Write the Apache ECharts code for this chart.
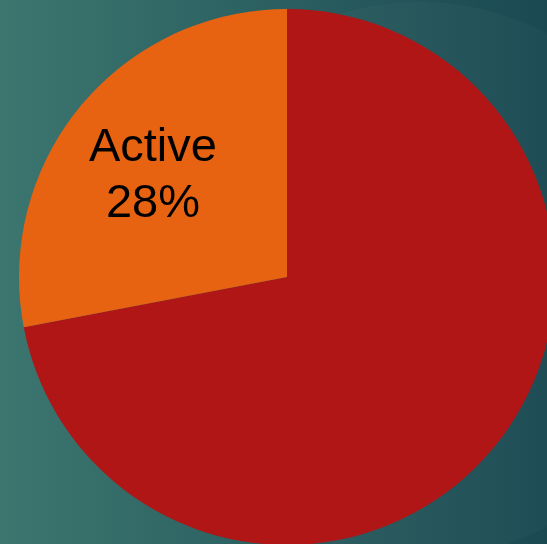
<!DOCTYPE html>
<html>
<head>
<meta charset="utf-8">
<script src="https://cdn.jsdelivr.net/npm/echarts@6/dist/echarts.min.js"></script>
<style>
html,body{margin:0;padding:0;width:547px;height:544px;overflow:hidden;}
#c{width:547px;height:544px;}
</style>
</head>
<body>
<div id="c"></div>
<script>
const categories = ['Inactive', 'Active'];
const values = [72, 28];
const colors = ['#B01616', '#E86311'];
const showLabel = [false, true];

const chart = echarts.init(document.getElementById('c'));
const data = categories.map((n, i) => ({name: n, value: values[i], itemStyle: {color: colors[i]}}));
const labelData = categories.map((n, i) => ({name: n, value: values[i], label: {show: showLabel[i]}}));

chart.setOption({
  backgroundColor: new echarts.graphic.LinearGradient(0, 0, 1, 0, [
    {offset: 0, color: '#3C766F'},
    {offset: 1, color: '#1A4952'}
  ]),
  graphic: [{
    type: 'circle', z: -1, silent: true,
    shape: {cx: 420, cy: 280, r: 278},
    style: {fill: 'rgba(255,255,255,0.025)'}
  }],
  series: [{
    type: 'pie',
    center: [287, 277],
    radius: [0, 268],
    startAngle: 90,
    clockwise: true,
    silent: true,
    label: {show: false},
    labelLine: {show: false},
    itemStyle: {borderWidth: 0},
    data: data
  }, {
    type: 'pie',
    center: [287, 277],
    radius: [74, 268],
    startAngle: 90,
    clockwise: true,
    silent: true,
    itemStyle: {color: 'transparent', borderWidth: 0},
    label: {
      position: 'inside',
      formatter: '{b}\n{d}%',
      color: '#000',
      fontFamily: 'Liberation Sans, Arial, sans-serif',
      fontSize: 47,
      lineHeight: 56,
      offset: [0, 10]
    },
    labelLine: {show: false},
    data: labelData
  }]
});
</script>
</body>
</html>
